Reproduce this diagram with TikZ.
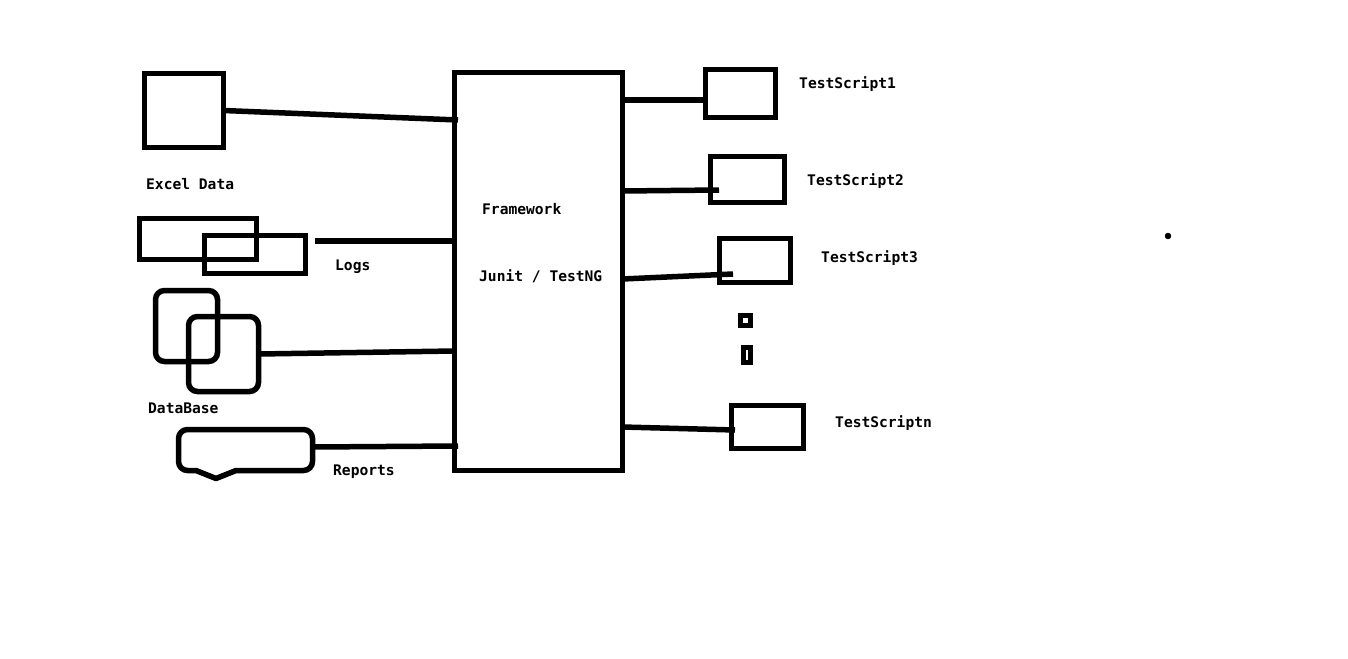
\documentclass[tikz,border=0pt]{standalone}
\usepackage{fontspec}
\usepackage{tikz}
\newfontfamily\labelfont{DejaVu Sans Mono}[Scale=1]

\tikzset{
  tbox/.style={draw, line width=5.5pt, inner sep=0pt, outer sep=0pt},
  conn/.style={line width=5.5pt},
  lbl/.style={anchor=base west, inner sep=0pt, font=\labelfont\bfseries\fontsize{14.6}{16}\selectfont}
}

\begin{document}
\begin{tikzpicture}[x=1pt, y=-1pt]
        \useasboundingbox (0,0) rectangle (1348,658);

        % Blocco centrale
        \node[tbox, minimum width=168pt, minimum height=398pt] (fw) at (538.5,271.5) {};
        \node[lbl] (fwlbl) at (482,214) {Framework};
        \node[lbl] (junitlbl) at (479,281) {Junit / TestNG};

        % Sorgenti a sinistra
        \node[tbox, minimum width=79pt, minimum height=74pt] (excel) at (184,110.5) {};
        \node[lbl] (excellbl) at (146,189) {Excel Data};
        \node[tbox, minimum width=117pt, minimum height=41pt] (logsA) at (198,239) {};
        \node[tbox, minimum width=101pt, minimum height=38pt] (logsB) at (255,254.5) {};
        \node[lbl] (logslbl) at (335,270) {Logs};
        \node[tbox, rounded corners=9pt, minimum width=62pt, minimum height=71pt] (dbA) at (186.5,326) {};
        \node[tbox, rounded corners=9pt, minimum width=70pt, minimum height=75pt] (dbB) at (223.5,354) {};
        \node[lbl] (dblbl) at (148,413) {DataBase};
        \draw[conn, line join=round] (196,470.5) [rounded corners=9pt] -- (178.5,470.5) -- (178.5,429.5)
              -- (312.5,429.5) -- (312.5,470.5) [sharp corners] -- (236,470.5) -- (216,478.5) -- cycle; % Reports
        \coordinate (rep) at (312.5,447);
        \node[lbl] (replbl) at (333,475) {Reports};

        % Collegamenti a sinistra
        \coordinate (fwin1) at (458,120);
        \coordinate (logsout) at (315,241);
        \coordinate (fwin4) at (458,446);
        \draw[conn] (excel.east) -- (fwin1);
        \draw[conn] (logsout) -- (fw.west |- logsout);
        \draw[conn] (dbB.east) -- (fw.west |- 0,351);
        \draw[conn] (rep) -- (fwin4);

        % Test script a destra
        \node[tbox, minimum width=70pt, minimum height=48pt] (ts1) at (740.5,93.5) {};
        \node[tbox, minimum width=74pt, minimum height=46pt] (ts2) at (747.5,179.5) {};
        \node[tbox, minimum width=71pt, minimum height=44pt] (ts3) at (755,260.5) {};
        \node[tbox, minimum width=72pt, minimum height=43pt] (tsn) at (767.5,427) {};
        \node[lbl] (ts1lbl) at (799,89) {TestScript1};
        \node[lbl] (ts2lbl) at (807,185) {TestScript2};
        \node[lbl] (ts3lbl) at (821,262) {TestScript3};
        \node[lbl] (tsnlbl) at (835,427) {TestScriptn};

        % Puntini tra 3 e n
        \node[tbox, minimum width=10pt, minimum height=10pt] (dotA) at (745.5,320.5) {};
        \node[tbox, minimum width=7pt, minimum height=15pt] (dotB) at (747,355) {};

        % Collegamenti a destra
        \coordinate (ts2in) at (719,190);
        \coordinate (ts3in) at (733,274);
        \coordinate (tsnin) at (735,430);
        \draw[conn] (fw.east |- 0,100) -- (ts1.west |- 0,100);
        \draw[conn] (fw.east |- 0,191) -- (ts2in);
        \draw[conn] (fw.east |- 0,279) -- (ts3in);
        \draw[conn] (fw.east |- 0,427) -- (tsnin);

        % Punto isolato
        \filldraw[black] (1168,236) circle (3pt) coordinate (stray);
    \end{tikzpicture}
\end{document}
